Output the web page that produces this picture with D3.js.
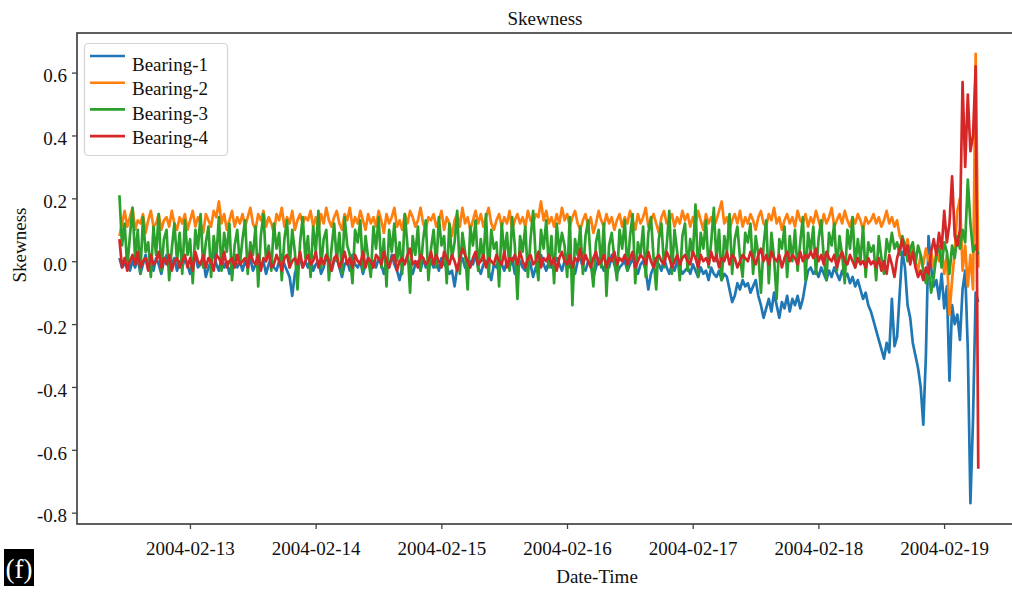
<!DOCTYPE html>
<html><head><meta charset="utf-8">
<script src="https://cdn.jsdelivr.net/npm/d3@7"></script>
<style>
body{margin:0;background:#fff}
svg{display:block}
text{font-family:"Liberation Serif","Times New Roman",serif;fill:#111}
</style>
</head><body>
<svg id="chart" width="1012" height="592"></svg>
<script>
// ---------------- data ----------------
const seriesNames = ["Bearing-1", "Bearing-2", "Bearing-3", "Bearing-4"];
const seriesColors = ["#1f77b4", "#ff7f0e", "#2ca02c", "#d62728"];
const startTime = "2004-02-12T10:32";
const stepMinutes = 30;

const bearing1 = [
.01,-.02,-.01,.02,-.03,.00,-.02,.01,-.04,-.01,.02,-.02,.00,-.03,.01,-.01,-.04,.00,.02,-.02,-.01,.01,-.03,.00,
-.02,.01,-.01,-.04,.00,.02,-.02,-.01,.01,-.05,-.02,.00,.03,-.01,-.03,.01,-.02,.00,-.04,-.01,.02,-.02,.00,-.03,
.00,-.02,.01,-.03,-.01,.02,-.02,.00,-.04,-.01,.01,-.02,-.03,.00,.02,-.01,-.03,-.05,-.11,-.04,-.01,.01,-.02,.00,
-.02,.01,-.03,-.01,.00,-.04,-.02,.02,-.01,-.03,.00,.01,-.02,-.05,-.01,.00,-.03,.02,-.01,-.02,.00,-.04,-.01,.01,
-.03,.00,-.02,.01,-.01,-.04,.00,-.02,.02,-.01,-.03,-.06,-.02,.00,.01,-.02,-.04,-.01,.00,-.03,.01,-.02,-.01,.00,
-.02,.00,-.03,.01,-.01,-.02,-.04,-.03,-.08,-.02,.00,.01,-.02,-.03,.00,-.01,.02,-.02,-.04,-.01,.00,-.03,-.06,-.01,
-.02,.01,-.01,-.03,.00,-.02,.01,-.04,-.01,.00,-.02,-.03,.01,-.01,-.05,-.02,.00,.02,-.01,-.03,.00,-.02,-.01,.01,
-.01,-.03,.00,.02,-.02,-.01,-.04,.00,.01,-.02,-.03,.00,-.01,-.05,-.02,.01,-.01,-.03,.00,-.02,.02,-.01,-.04,-.02,
-.01,.00,-.03,-.01,.01,-.02,-.04,-.01,.00,-.03,-.09,-.04,-.02,.00,-.01,-.03,.01,-.02,-.04,-.01,-.03,.00,-.02,-.04,
-.03,-.02,-.04,-.01,-.03,-.05,-.02,-.04,-.03,-.06,-.02,-.04,-.05,-.03,-.06,-.04,-.05,-.09,-.13,-.11,-.07,-.09,-.06,-.08,
-.07,-.10,-.08,-.06,-.11,-.14,-.18,-.15,-.12,-.16,-.10,-.14,-.18,-.13,-.15,-.11,-.16,-.12,-.14,-.11,-.15,-.12,-.07,-.03,
-.02,-.04,-.03,-.05,-.02,-.04,-.06,-.03,-.05,-.02,-.04,-.06,-.03,-.05,-.04,-.07,-.05,-.08,-.06,-.09,-.12,-.10,-.14,-.16,
-.19,-.22,-.25,-.28,-.31,-.26,-.29,-.12,-.27,-.24,-.10,.03,-.02,-.14,-.18,-.26,-.30,-.34,-.40,-.52,-.30,.08,-.02,-.08,
-.06,-.12,-.04,-.15,-.08,-.38,-.14,-.20,-.17,-.25,-.09,-.03,-.28,-.77,-.50,-.10,-.13
];

const bearing2 = [
.08,.12,.16,.11,.14,.17,.10,.13,.12,.15,.09,.13,.16,.11,.12,.15,.10,.13,.14,.11,.16,.12,.10,.14,
.12,.15,.10,.13,.16,.11,.14,.12,.09,.15,.13,.11,.16,.14,.19,.12,.15,.10,.13,.16,.11,.14,.12,.15,
.11,.14,.17,.12,.10,.15,.13,.16,.11,.14,.12,.09,.15,.13,.17,.11,.14,.12,.16,.10,.13,.15,.12,.14,
.13,.16,.11,.14,.10,.15,.12,.17,.13,.11,.14,.16,.12,.10,.15,.13,.17,.11,.14,.12,.16,.13,.10,.15,
.12,.14,.11,.16,.13,.09,.15,.12,.14,.17,.11,.13,.10,.15,.12,.16,.14,.11,.13,.17,.12,.10,.14,.13,
.15,.11,.13,.16,.10,.14,.12,.08,.13,.15,.11,.17,.12,.14,.10,.13,.16,.12,.15,.11,.14,.17,.12,.10,
.13,.15,.11,.14,.12,.16,.10,.13,.15,.12,.14,.11,.16,.13,.12,.15,.14,.19,.13,.16,.12,.14,.11,.15,
.12,.17,.13,.15,.11,.14,.16,.12,.10,.13,.15,.11,.14,.09,.12,.16,.13,.11,.15,.12,.14,.10,.13,.15,
.11,.14,.12,.16,.13,.10,.15,.12,.14,.17,.11,.13,.15,.12,.09,.14,.16,.12,.13,.15,.11,.14,.12,.16,
.13,.15,.11,.14,.12,.16,.13,.10,.15,.12,.14,.11,.13,.16,.19,.12,.14,.10,.13,.15,.12,.16,.11,.14,
.12,.15,.13,.10,.14,.16,.12,.11,.15,.13,.17,.12,.14,.10,.13,.15,.12,.14,.11,.16,.13,.12,.15,.11,
.14,.12,.16,.13,.10,.15,.12,.14,.17,.11,.13,.15,.12,.16,.13,.11,.14,.12,.15,.13,.10,.14,.12,.13,
.15,.12,.14,.11,.13,.16,.12,.14,.11,.13,.08,.06,.04,.07,.02,.05,.00,-.03,.02,-.01,.04,.00,.03,-.02,
.03,.00,.05,-.04,.02,-.17,-.06,.03,.16,.20,-.03,.05,-.08,.02,-.09,.66,-.02
];

const bearing3 = [
.21,.05,.12,-.02,.08,.17,.01,.10,-.04,.14,.03,.06,-.05,.11,.02,.15,-.03,.07,.10,-.06,.04,.12,.00,.09,
-.04,.13,.02,.07,-.07,.10,.04,.15,-.02,.06,.11,-.05,.08,.01,.14,-.03,.09,.03,.12,-.06,.05,.10,-.01,.07,
.13,-.04,.06,.02,.11,-.08,.08,.15,.00,.05,-.03,.12,.04,.09,-.06,.07,.13,-.02,.10,.03,-.09,.06,.14,.01,
.08,-.05,.11,.03,.16,-.02,.07,.10,-.06,.04,.12,.00,.09,-.04,.14,.05,.02,-.07,.10,.06,.13,-.03,.08,.01,
-.05,.11,.04,.14,-.02,.07,-.08,.10,.03,.12,.00,.06,-.04,.15,.05,-.10,.08,.02,.11,-.03,.07,.13,-.06,.04,
.10,-.02,.14,.05,.08,-.07,.12,.01,.06,.16,-.04,.09,.03,-.09,.11,.05,.13,-.03,.07,.00,.15,-.05,.10,.04,
.06,-.08,.12,.02,.09,-.03,.14,.05,-.12,.08,.03,.11,-.05,.07,.16,.01,-.06,.10,.04,.13,-.02,.08,-.07,.12,
.03,.09,.05,-.05,.14,-.14,.07,.02,.11,-.04,.08,.13,.00,-.08,.06,.10,-.02,.12,-.11,.05,.09,.01,-.06,.10,
.04,.13,-.03,.08,.15,-.07,.06,.02,.11,-.05,.09,.14,.01,-.09,.07,.12,-.02,.05,.16,-.04,.10,.03,-.06,.08,
.12,-.03,.07,.02,.18,-.05,.09,.04,.13,-.02,.06,.17,.00,.10,-.06,.08,.03,.15,-.04,.07,.11,.01,-.05,.09,
.06,.12,-.04,.08,.02,-.10,.05,.13,-.07,.09,.01,-.12,.07,.04,.11,-.05,.08,.00,.10,-.03,.06,.14,-.06,.09,
.03,.11,-.04,.07,.13,.01,-.06,.09,.05,.12,-.03,.08,.02,-.07,.10,.04,.14,-.02,.07,.00,.11,-.05,.06,.03,
.05,-.06,.08,.01,-.04,.07,.03,.09,.04,.06,.02,.08,.05,.00,.04,.06,-.01,.05,.02,-.03,-.07,-.02,-.10,-.05,
.02,.05,-.02,.06,.03,-.04,.05,.01,.08,.04,.10,.06,.26,.12,.03,.05,.02
];

const bearing4 = [
.07,-.02,.01,-.03,.00,.02,-.01,.03,-.02,.00,.01,-.03,.02,-.01,.00,.03,-.02,.01,-.01,.02,-.03,.00,.01,-.02,
.00,.02,-.02,.01,-.03,.03,.00,-.01,.02,-.02,.01,.00,-.03,.02,.01,-.01,.03,-.02,.00,.01,-.02,.02,-.01,.00,
.01,-.02,.03,.00,-.01,.02,-.03,.01,.00,.03,-.02,-.01,.02,.00,-.03,.01,.02,-.02,.00,.01,-.01,.03,-.02,.00,
.02,-.01,.00,.03,-.02,.01,-.01,.02,.00,-.03,.01,.02,-.02,.00,.03,-.01,.01,-.02,.02,.00,-.01,.03,-.02,.01,
.00,-.02,.02,.01,-.01,.03,.00,-.02,.01,.02,-.03,.00,.01,-.01,.02,.04,-.01,.00,-.02,.02,.01,-.01,.00,.03,
-.01,.02,.00,-.02,.03,.01,-.01,.02,.00,-.03,.01,.04,.02,.00,-.02,.01,.03,-.01,.00,.02,-.02,.01,.00,-.01,
.02,.00,-.01,.03,-.02,.01,.00,.02,-.01,.03,.00,-.02,.01,.02,-.01,.00,.03,-.02,.01,.00,.02,-.01,.01,-.03,
.01,.03,.00,-.01,.02,-.02,.01,.00,.04,-.01,.02,.00,-.02,.01,.03,-.01,.00,.02,-.02,.01,.00,.03,-.01,.01,
.00,.02,-.01,.01,.03,-.02,.00,.02,.01,-.01,.03,.00,-.02,.01,.02,.00,-.01,.03,.01,-.02,.00,.02,-.01,.01,
.02,.00,-.01,.03,.01,-.02,.02,.00,.01,-.01,.03,.00,.02,-.02,.01,.00,.03,-.01,.02,.01,-.02,.00,.02,.01,
.00,.03,.01,-.01,.02,.04,.00,.02,-.01,.03,.01,.00,.02,-.02,.01,.03,.00,.02,.01,-.01,.03,.00,.02,.01,
.03,.01,.04,.00,.02,-.01,.03,.01,.00,.02,-.02,.01,.03,.00,-.01,.02,.00,-.02,.01,-.01,.00,-.02,.01,-.01,
.00,-.02,.01,-.03,.00,-.04,.02,-.01,-.05,.01,.04,.07,.02,.05,-.01,.03,-.02,-.05,-.03,-.06,-.02,-.04,.03,.07,
.02,.09,.04,.16,.06,.12,.27,.08,.05,.10,.57,.30,.53,.35,.40,.62,-.66
];

const yTickValues = [-0.8, -0.6, -0.4, -0.2, 0.0, 0.2, 0.4, 0.6];
const xTickLabels = ["2004-02-13", "2004-02-14", "2004-02-15", "2004-02-16", "2004-02-17", "2004-02-18", "2004-02-19"];
const xDomainLabels = ["2004-02-12T02:26", "2004-02-19T14:30"];
const yDomain = [-0.836, 0.726];
const titleText = "Skewness";
const xLabelText = "Date-Time";
const yLabelText = "Skewness";
const panelTag = "(f)";

// ---------------- layout ----------------
const svg = d3.select("#chart");
const plot = {left: 77, right: 1020, top: 33, bottom: 524};
const parseT = d3.timeParse("%Y-%m-%dT%H:%M");
const parseD = d3.timeParse("%Y-%m-%d");

const x = d3.scaleTime().domain(xDomainLabels.map(parseT)).range([plot.left, plot.right]);
const y = d3.scaleLinear().domain(yDomain).range([plot.bottom, plot.top]);

const t0 = parseT(startTime);
const allSeries = [bearing1, bearing2, bearing3, bearing4].map((vals, k) => ({
  name: seriesNames[k], color: seriesColors[k],
  points: vals.map((v, i) => ({t: d3.timeMinute.offset(t0, i * stepMinutes), v}))
}));

svg.append("defs").append("clipPath").attr("id", "clip")
  .append("rect").attr("x", plot.left).attr("y", plot.top)
  .attr("width", plot.right - plot.left).attr("height", plot.bottom - plot.top);

const line = d3.line().x(d => x(d.t)).y(d => y(d.v));
svg.append("g").attr("clip-path", "url(#clip)")
  .selectAll("path").data(allSeries).join("path")
  .attr("d", d => line(d.points))
  .attr("fill", "none").attr("stroke", d => d.color)
  .attr("stroke-width", 2.7).attr("stroke-linejoin", "round");

// axes
const axisColor = "#444";
const yAxis = svg.append("g").attr("transform", `translate(${plot.left},0)`)
  .call(d3.axisLeft(y).tickValues(yTickValues).tickFormat(d => d.toFixed(1)).tickSize(5).tickPadding(5));
yAxis.select(".domain").remove();
yAxis.selectAll(".tick line").attr("stroke", axisColor).attr("stroke-width", 1.3);
yAxis.selectAll(".tick text").attr("font-size", 19).attr("dy", "0.49em")
  .style("font-family", '"Liberation Serif","Times New Roman",serif').attr("fill", "#111");

const xAxis = svg.append("g").attr("transform", `translate(0,${plot.bottom})`)
  .call(d3.axisBottom(x).tickValues(xTickLabels.map(parseD)).tickFormat(d3.timeFormat("%Y-%m-%d")).tickSize(5).tickPadding(0));
xAxis.select(".domain").remove();
xAxis.selectAll(".tick line").attr("stroke", axisColor).attr("stroke-width", 1.3);
xAxis.selectAll(".tick text").attr("font-size", 19).attr("y", 31).attr("dy", 0)
  .style("font-family", '"Liberation Serif","Times New Roman",serif').attr("fill", "#111");

// frame
svg.append("rect").attr("x", plot.left).attr("y", plot.top)
  .attr("width", plot.right - plot.left).attr("height", plot.bottom - plot.top)
  .attr("fill", "none").attr("stroke", axisColor).attr("stroke-width", 1.7);

// title and labels
svg.append("text").attr("x", 545).attr("y", 25).attr("text-anchor", "middle")
  .attr("font-size", 19).text(titleText);
svg.append("text").attr("x", 597).attr("y", 583).attr("text-anchor", "middle")
  .attr("font-size", 19).text(xLabelText);
svg.append("text").attr("transform", "translate(26,245) rotate(-90)").attr("text-anchor", "middle")
  .attr("font-size", 19).text(yLabelText);

// legend
const lg = svg.append("g");
lg.append("rect").attr("x", 84.5).attr("y", 43.5).attr("width", 143).attr("height", 112)
  .attr("rx", 4).attr("fill", "#fff").attr("fill-opacity", 0.85)
  .attr("stroke", "#d4d4d4").attr("stroke-width", 1.2);
allSeries.forEach((s, i) => {
  const ly = 56 + i * 26.7;
  lg.append("line").attr("x1", 90).attr("x2", 125).attr("y1", ly).attr("y2", ly)
    .attr("stroke", s.color).attr("stroke-width", 2.6);
  lg.append("text").attr("x", 132).attr("y", 71 + i * 24.3).attr("font-size", 19).text(s.name);
});

// panel tag
svg.append("rect").attr("x", 4).attr("y", 549).attr("width", 30).attr("height", 37).attr("fill", "#000");
svg.append("text").attr("x", 19).attr("y", 578).attr("text-anchor", "middle")
  .attr("font-size", 27).style("fill", "#fff").text(panelTag);
</script>
</body></html>
